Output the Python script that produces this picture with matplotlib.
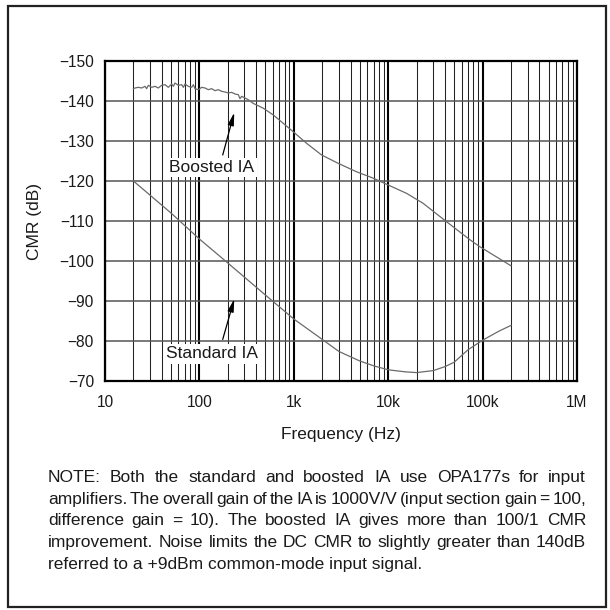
import matplotlib
matplotlib.use('Agg')
import matplotlib.pyplot as plt
from matplotlib.patches import Rectangle
from matplotlib.ticker import FixedLocator, LogLocator, NullFormatter

plt.rcParams['font.family'] = ['Liberation Sans', 'DejaVu Sans']

# ---------------- data ----------------
std_freq = [20, 50, 100, 200, 500, 1000, 2000, 3000, 5000, 7000, 10000,
            15000, 20000, 30000, 40000, 50000, 70000, 100000, 150000, 200000]
std_cmr = [-120, -112, -105.5, -99.5, -91.5, -85.5, -80.4, -77.4, -75.0, -73.8, -72.8,
           -72.3, -72.1, -72.6, -73.6, -74.7, -77.8, -80.2, -82.5, -83.9]

boost_freq = [20, 20.8, 22.5, 24.5, 26.5, 27.6, 28.8, 31.2, 33.9, 36.7, 39.8, 43.2,
              46.9, 50.8, 53, 55.1, 59.8, 64.9, 67.6, 70.4, 76.3, 82.8, 86.3, 89.8,
              97.4, 105.7, 114.7, 124.3, 134.9, 146.2, 158.7, 172.2, 186.7, 202.6,
              219.7, 238.4, 258.5, 269, 280.4, 304, 330, 372, 475, 607, 775, 988,
              1370, 1970, 2965, 4630, 6950, 10000, 15700, 23500, 41600, 74000,
              93000, 130000, 200000]
boost_cmr = [-143.08, -143.25, -143.42, -143.25, -143.67, -143.08, -143.92, -143.42,
             -143.67, -143.25, -143.92, -144.08, -143.42, -144.25, -143.67, -144.5,
             -143.92, -144.08, -143.42, -144.25, -143.67, -143.42, -144.08, -143.08,
             -142.83, -143.42, -143.25, -142.83, -143.08, -142.58, -142.83, -142.42,
             -142.25, -142.0, -142.17, -141.75, -141.58, -140.58, -141.17, -140.75,
             -140.3, -139.4, -138.2, -136.5, -134.4, -132.3, -129.4, -126.5, -124.4,
             -122.3, -120.7, -119.0, -116.9, -114.4, -109.8, -105.25, -103.6, -101.5,
             -98.8]

x_ticks = [10, 100, 1000, 10000, 100000, 1000000]
x_tick_labels = ['10', '100', '1k', '10k', '100k', '1M']
y_ticks = [-150, -140, -130, -120, -110, -100, -90, -80, -70]
y_tick_labels = ['\u2212150', '\u2212140', '\u2212130', '\u2212120', '\u2212110',
                 '\u2212100', '\u221290', '\u221280', '\u221270']

note_lines = [
    "NOTE: Both the standard and boosted IA use OPA177s for input",
    "amplifiers. The overall gain of the IA is 1000V/V (input section gain = 100,",
    "difference gain = 10). The boosted IA gives more than 100/1 CMR",
    "improvement. Noise limits the DC CMR to slightly greater than 140dB",
    "referred to a +9dBm common-mode input signal.",
]

# ---------------- figure ----------------
W = H = 610
fig = plt.figure(figsize=(6.1, 6.1), dpi=100)


def fx(px):
    return px / W


def fy(py):
    return 1 - py / H


TXT = '#1a1a1a'

ax = fig.add_axes([fx(105), fy(381), (577 - 105) / W, (381 - 61) / H])
ax.set_xscale('log')
ax.set_xlim(10, 1e6)
ax.set_ylim(-70, -150)

ax.xaxis.set_major_locator(FixedLocator(x_ticks))
ax.set_xticklabels(x_tick_labels)
ax.xaxis.set_minor_locator(LogLocator(base=10, subs=range(2, 10), numticks=20))
ax.xaxis.set_minor_formatter(NullFormatter())
ax.set_yticks(y_ticks)
ax.set_yticklabels(y_tick_labels)
ax.tick_params(which='both', length=0)
ax.tick_params(axis='x', pad=10, labelsize=11.2, labelcolor=TXT)
ax.tick_params(axis='y', pad=8, labelsize=11.2, labelcolor=TXT)

ax.grid(True, which='major', axis='x', color='black', lw=1.5)
ax.grid(True, which='minor', axis='x', color='#222222', lw=0.75)
ax.grid(True, which='major', axis='y', color='#555555', lw=1.1)
for s in ax.spines.values():
    s.set_linewidth(1.6)
    s.set_color('black')

ax.plot(std_freq, std_cmr, color='#6a6a6a', lw=0.9, zorder=3)
ax.plot(boost_freq, boost_cmr, color='#6a6a6a', lw=0.9, zorder=3)

ax.set_xlabel('Frequency (Hz)', fontsize=12.5, color=TXT, va='baseline')
ax.xaxis.set_label_coords(0.5, (381 - 438.5) / 320)
ax.set_ylabel('CMR (dB)', fontsize=12.5, color=TXT, va='center')
ax.yaxis.set_label_coords((35 - 105) / 472, 0.5)

# annotations
for label, pos, tail, tip in [
    ('Boosted IA', (136, -123.3), (176.6, -126.5), (234, -137.1)),
    ('Standard IA', (136, -76.75), (176.6, -80.4), (234, -90.5)),
]:
    ax.text(pos[0], pos[1], label, ha='center', va='center', fontsize=12.5,
            color=TXT, zorder=5,
            bbox=dict(boxstyle='square,pad=0.12', fc='white', ec='none'))
    ax.annotate('', xy=tip, xytext=tail, zorder=6,
                arrowprops=dict(arrowstyle='-|>,head_length=0.75,head_width=0.18',
                                color='black', lw=0.9, shrinkA=0, shrinkB=0))

# outer frame
fig.patches.append(Rectangle((fx(8), fy(607)), (606 - 8) / W, (607 - 6) / H,
                             transform=fig.transFigure, fill=False,
                             ec='#222222', lw=1.6))

# justified note text
fig.canvas.draw()
r = fig.canvas.get_renderer()
x_left, x_right = 48, 586
base0, step = 482, 21.7
for i, line in enumerate(note_lines):
    y = fy(base0 + i * step)
    if i == len(note_lines) - 1:
        fig.text(fx(x_left), y, line, fontsize=12.5, va='baseline', color=TXT)
        continue
    words = line.split()
    fs = 12.5
    while True:
        ts = [fig.text(0, y, w, fontsize=fs, va='baseline', color=TXT) for w in words]
        ws = [t.get_window_extent(r).width for t in ts]
        gap = (x_right - x_left - sum(ws)) / (len(words) - 1)
        if gap >= fs * 1.389 * 0.12 or fs < 8:
            break
        for t in ts:
            t.remove()
        fs -= 0.25
    x = x_left
    for t, w in zip(ts, ws):
        t.set_x(fx(x))
        x += w + gap

fig.savefig('out.png', dpi=100)
